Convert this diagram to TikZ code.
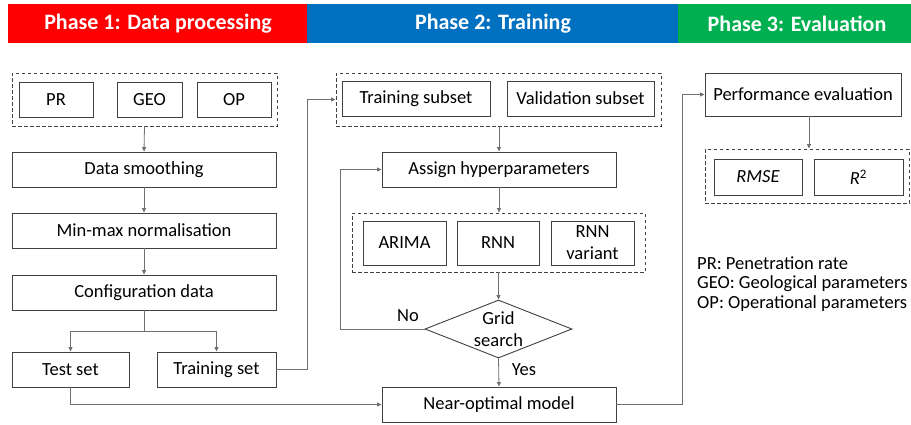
\documentclass[tikz,border=0pt]{standalone}
\usepackage{fontspec}
\setmainfont{Carlito}
\usetikzlibrary{arrows.meta,shapes.geometric}
\definecolor{phaseA}{HTML}{FF0000}
\definecolor{phaseB}{HTML}{0070C0}
\definecolor{phaseC}{HTML}{00B050}
\definecolor{edge}{HTML}{404040}
\definecolor{wire}{HTML}{707070}
\newcommand\bodysize{\fontsize{18.5}{21}\selectfont}
\tikzset{
  box/.style={draw=edge, line width=0.9pt, rectangle, inner sep=0pt, font=\bodysize, align=center},
  group/.style={draw=edge, line width=0.9pt, dash pattern=on 3.5pt off 2.5pt, rectangle, inner sep=0pt},
  wirel/.style={draw=wire, line width=0.8pt},
  arr/.style={wirel, -{Triangle[length=4.5pt,width=4pt]}},
  header/.style={text=white, font=\fontsize{22}{24}\selectfont\bfseries},
  lbl/.style={font=\bodysize, inner sep=0pt},
}
\begin{document}
\begin{tikzpicture}[x=1pt,y=-1pt]
\useasboundingbox (0,0) rectangle (911,424);

% phase header bars
\fill[phaseA] (8,4) rectangle (307,43);
\fill[phaseB] (307,4) rectangle (678,43);
\fill[phaseC] (678,4) rectangle (911,43);
\node[header] (hA) at (158,24) {Phase 1: Data processing};
\node[header] (hB) at (493,24) {Phase 2: Training};
\node[header] (hC) at (797,24) {Phase 3: Evaluation};

% phase 1: data processing
\node[group, minimum width=265, minimum height=53] (inputs) at (144.5,99.5) {};
\node[box, minimum width=74, minimum height=35] (pr) at (56,99.5) {PR};
\node[box, minimum width=65, minimum height=35] (geo) at (149.5,99.5) {GEO};
\node[box, minimum width=74, minimum height=35] (op) at (234,99.5) {OP};
\node[box, minimum width=264, minimum height=35] (smooth) at (144,169.5) {Data smoothing};
\node[box, minimum width=264, minimum height=35] (norm) at (144,230.5) {Min-max normalisation};
\node[box, minimum width=264, minimum height=35] (config) at (144,292.5) {Configuration data};
\node[box, minimum width=117, minimum height=35] (test) at (70.5,369.5) {Test set};
\node[box, minimum width=119, minimum height=35] (train) at (216.5,369.5) {Training set};

% phase 2: training
\node[group, minimum width=325, minimum height=53] (subsets) at (498.5,99.5) {};
\node[box, minimum width=148, minimum height=35] (tsub) at (416,98.5) {Training subset};
\node[box, minimum width=147, minimum height=35] (vsub) at (580.5,98.5) {Validation subset};
\node[box, minimum width=234, minimum height=35] (assign) at (499,169.5) {Assign hyperparameters};
\node[group, minimum width=293, minimum height=59] (models) at (498.5,242.5) {};
\node[box, minimum width=83, minimum height=44] (arima) at (404.5,243) {ARIMA};
\node[box, minimum width=82, minimum height=44] (rnn) at (498,243) {RNN};
\node[box, minimum width=83, minimum height=44, font=\fontsize{18.5}{22}\selectfont] (rnnv) at (592.5,243) {RNN\\variant};
\node[box, diamond, minimum width=147, minimum height=58, aspect=2.5, font=\fontsize{18.5}{22}\selectfont] (grid) at (498.5,329) {Grid\\search};
\node[box, minimum width=234, minimum height=35] (best) at (499,404.5) {Near-optimal model};

% phase 3: evaluation
\node[box, minimum width=196, minimum height=43] (perf) at (803,94.5) {Performance evaluation};
\node[group, minimum width=204, minimum height=54] (metrics) at (807,176) {};
\node[box, minimum width=88, minimum height=36, font=\bodysize\itshape] (rmse) at (758,177) {RMSE};
\node[box, minimum width=89, minimum height=36] (rsq) at (858.5,177) {\textit{R}\textsuperscript{2}};

% abbreviations
\node[lbl, anchor=west] (kpr) at (697,263) {PR: Penetration rate};
\node[lbl, anchor=west] (kgeo) at (697,284) {GEO: Geological parameters};
\node[lbl, anchor=west] (kop) at (697,304) {OP: Operational parameters};

% connectors, phase 1
\draw[arr] (inputs.south) -- (smooth.north);
\draw[arr] (smooth) -- (norm);
\draw[arr] (norm) -- (config);
\coordinate (split) at (144,331);
\draw[wirel] (config.south) -- (split);
\draw[arr] (split) -| (test.north);
\draw[arr] (split) -| (train.north);
\coordinate (upA) at (307,369.5);
\draw[arr] (train.east) -- (upA) |- (subsets.west);
\coordinate (downA) at (70.5,404.5);
\draw[arr] (test.south) -- (downA) -- (best.west);

% connectors, phase 2
\draw[arr] (subsets.south -| assign.north) -- (assign.north);
\draw[arr] (assign.south) -- (models.north -| assign.south);
\draw[arr] (models.south) -- (grid.north);
\coordinate (loop) at (340,329);
\draw[arr] (grid.west) -- (loop) |- (assign.west);
\draw[arr] (grid.south) -- (best.north);
\node[lbl] (no) at (408,316) {No};
\node[lbl] (yes) at (524,370) {Yes};

% connectors, phase 3
\coordinate (upB) at (682,404.5);
\draw[arr] (best.east) -- (upB) |- (perf.west);
\draw[arr] (perf.south -| 809,0) -- (metrics.north -| 809,0);
\end{tikzpicture}
\end{document}
